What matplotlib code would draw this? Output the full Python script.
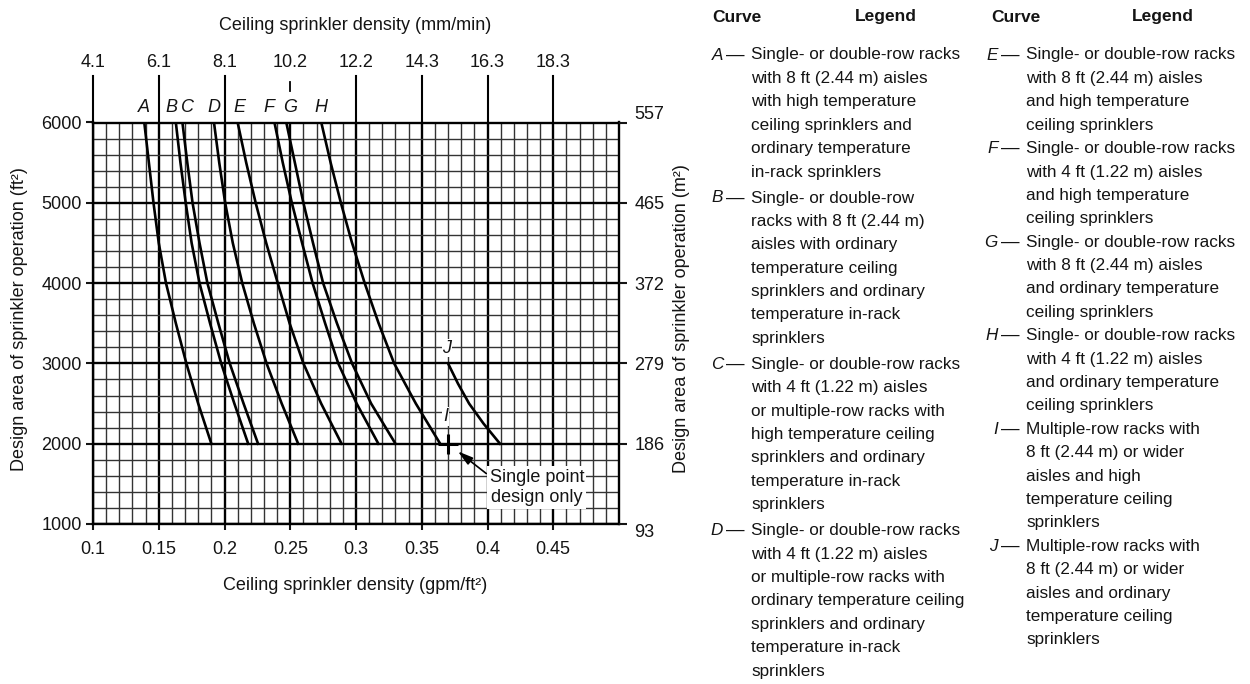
#!/usr/bin/env python3
#coding: utf-8

import matplotlib
matplotlib.use('Agg')
import matplotlib.pyplot as plt
import numpy as np

plt.rcParams['font.family'] = ['Liberation Sans', 'DejaVu Sans']

# design area (ft2) at which the curves are read
area_ft2 = [6000, 5500, 5000, 4500, 4000, 3500, 3000, 2500, 2000]

# ceiling sprinkler density (gpm/ft2) of each curve at those areas
curve_a = [0.139, 0.1425, 0.146, 0.150, 0.1555, 0.163, 0.171, 0.180, 0.190]
curve_b = [0.163, 0.1665, 0.1705, 0.175, 0.181, 0.189, 0.1975, 0.2075, 0.218]
curve_c = [0.168, 0.1717, 0.1757, 0.181, 0.187, 0.1953, 0.204, 0.2145, 0.2255]
curve_d = [0.192, 0.196, 0.2005, 0.2063, 0.2135, 0.2223, 0.232, 0.2435, 0.256]
curve_e = [0.210, 0.2165, 0.2237, 0.2317, 0.2405, 0.2495, 0.260, 0.2735, 0.289]
curve_f = [0.238, 0.2443, 0.2512, 0.259, 0.267, 0.2765, 0.2865, 0.3005, 0.317]
curve_g = [0.247, 0.2535, 0.260, 0.2673, 0.275, 0.2855, 0.297, 0.3115, 0.330]
curve_h = [0.2736, 0.2807, 0.2885, 0.297, 0.3066, 0.3172, 0.329, 0.3455, 0.364]
curve_names = ['A', 'B', 'C', 'D', 'E', 'F', 'G', 'H']

# curve J is only defined between 2000 and 3000 ft2
area_j = [3000, 2750, 2500, 2250, 2000]
curve_j = [0.370, 0.3775, 0.386, 0.397, 0.4095]

# curve I is a single design point
point_i = (0.37, 2000)

gpm_ticks = [0.1, 0.15, 0.2, 0.25, 0.3, 0.35, 0.4, 0.45]
gpm_labels = ['0.1', '0.15', '0.2', '0.25', '0.3', '0.35', '0.4', '0.45']
mm_labels = ['4.1', '6.1', '8.1', '10.2', '12.2', '14.3', '16.3', '18.3']
area_ticks = [1000, 2000, 3000, 4000, 5000, 6000]
area_m2_labels = ['93', '186', '279', '372', '465', '557']

legend_left = [
    ('A', ['Single- or double-row racks', 'with 8 ft (2.44 m) aisles',
           'with high temperature', 'ceiling sprinklers and',
           'ordinary temperature', 'in-rack sprinklers']),
    ('B', ['Single- or double-row', 'racks with 8 ft (2.44 m)',
           'aisles with ordinary', 'temperature ceiling',
           'sprinklers and ordinary', 'temperature in-rack', 'sprinklers']),
    ('C', ['Single- or double-row racks', 'with 4 ft (1.22 m) aisles',
           'or multiple-row racks with', 'high temperature ceiling',
           'sprinklers and ordinary', 'temperature in-rack', 'sprinklers']),
    ('D', ['Single- or double-row racks', 'with 4 ft (1.22 m) aisles',
           'or multiple-row racks with', 'ordinary temperature ceiling',
           'sprinklers and ordinary', 'temperature in-rack', 'sprinklers']),
]
legend_right = [
    ('E', ['Single- or double-row racks', 'with 8 ft (2.44 m) aisles',
           'and high temperature', 'ceiling sprinklers']),
    ('F', ['Single- or double-row racks', 'with 4 ft (1.22 m) aisles',
           'and high temperature', 'ceiling sprinklers']),
    ('G', ['Single- or double-row racks', 'with 8 ft (2.44 m) aisles',
           'and ordinary temperature', 'ceiling sprinklers']),
    ('H', ['Single- or double-row racks', 'with 4 ft (1.22 m) aisles',
           'and ordinary temperature', 'ceiling sprinklers']),
    ('I', ['Multiple-row racks with', '8 ft (2.44 m) or wider',
           'aisles and high', 'temperature ceiling', 'sprinklers']),
    ('J', ['Multiple-row racks with', '8 ft (2.44 m) or wider',
           'aisles and ordinary', 'temperature ceiling', 'sprinklers']),
]

W, H = 1250, 684
INK = '#141414'


def fx(px):
    return px / W


def fy(py):
    return 1 - py / H


def main():
    fig = plt.figure(figsize=(W / 100, H / 100), dpi=100)
    ax = fig.add_axes([fx(93), fy(524), 526 / W, 401.5 / H])
    draw_grid(ax)
    draw_curves(ax)
    draw_axes_text(fig, ax)
    draw_legend(fig)
    fig.savefig('out.png', dpi=100)


def draw_grid(ax):
    ax.set_xlim(0.1, 0.5)
    ax.set_ylim(1000, 6000)
    ax.set_xticks(gpm_ticks)
    ax.set_xticklabels(gpm_labels)
    ax.set_xticks(np.arange(0.1, 0.5001, 0.01), minor=True)
    ax.set_yticks(area_ticks)
    ax.set_yticks(np.arange(1000, 6001, 200), minor=True)
    ax.grid(which='minor', color='#333333', lw=1.0)
    ax.grid(which='major', color='black', lw=1.7)
    ax.set_axisbelow(True)
    for s in ax.spines.values():
        s.set_linewidth(1.7)
    ax.tick_params(which='minor', length=0)
    ax.tick_params(axis='x', which='major', length=4.5, width=1.5,
                   pad=8, labelsize=13, colors=INK)
    ax.tick_params(axis='y', which='major', length=5, width=1.5,
                   pad=3, labelsize=13, colors=INK)

    # right hand scale in m2
    ax_r = ax.twinx()
    ax_r.set_ylim(ax.get_ylim())
    ax_r.set_yticks(area_ticks)
    ax_r.set_yticklabels(area_m2_labels)
    ax_r.tick_params(length=6, width=1.5, pad=5, labelsize=13, colors=INK)
    labels = ax_r.get_yticklabels()
    labels[0].set_verticalalignment('top')
    labels[-1].set_verticalalignment('bottom')
    for s in ax_r.spines.values():
        s.set_visible(False)

    # top scale in mm/min
    ax_t = ax.twiny()
    ax_t.set_xlim(ax.get_xlim())
    ax_t.set_xticks(gpm_ticks)
    ax_t.set_xticklabels(mm_labels)
    ax_t.tick_params(length=0, pad=37, labelsize=13, colors=INK)
    for s in ax_t.spines.values():
        s.set_visible(False)

    # major lines carried up to the mm/min labels
    for x in gpm_ticks:
        if x == 0.25:
            ax.plot([x, x], [6390, 6505], color='black', lw=1.3,
                    clip_on=False)
        else:
            ax.plot([x, x], [6000, 6580], color='black', lw=1.5,
                    clip_on=False)


def draw_curves(ax):
    curves = [curve_a, curve_b, curve_c, curve_d,
              curve_e, curve_f, curve_g, curve_h]
    label_shift = [0, -0.003, 0.0035, 0, 0.001, -0.004, 0.003, 0]
    for name, dens, dx in zip(curve_names, curves, label_shift):
        ax.plot(dens, area_ft2, color='black', lw=1.9, zorder=3,
                solid_joinstyle='round')
        ax.text(dens[0] + dx, 6185, name, fontsize=13, style='italic',
                ha='center', va='center', color=INK, clip_on=False)

    ax.plot(curve_j, area_j, color='black', lw=1.9, zorder=3,
            solid_joinstyle='round')
    ax.text(curve_j[0] - 0.001, 3190, 'J', fontsize=13, style='italic',
            ha='center', va='center', color=INK, zorder=4,
            bbox=dict(fc='white', ec='none', pad=0.5))

    ax.plot(*point_i, marker='+', ms=15, mew=2.2, color='black', zorder=4)
    ax.text(point_i[0] - 0.002, 2340, 'I', fontsize=13, style='italic',
            ha='center', va='center', color=INK, zorder=4,
            bbox=dict(fc='white', ec='none', pad=0.5))

    ax.annotate('Single point\ndesign only', xy=point_i,
                xytext=(0.4375, 1455), ha='center', va='center',
                fontsize=13, color=INK, linespacing=1.3, zorder=5,
                bbox=dict(fc='white', ec='none', pad=1.5),
                arrowprops=dict(arrowstyle='-|>,head_length=0.7,head_width=0.2',
                                color='black', lw=1.2, shrinkA=1, shrinkB=9,
                                relpos=(0, 0.8)))


def draw_axes_text(fig, ax):
    fig.text(fx(355), fy(25), 'Ceiling sprinkler density (mm/min)',
             fontsize=13, ha='center', va='center', color=INK)
    fig.text(fx(355), fy(586), 'Ceiling sprinkler density (gpm/ft²)',
             fontsize=13, ha='center', va='center', color=INK)
    fig.text(fx(20), fy(319), 'Design area of sprinkler operation (ft²)',
             fontsize=13, rotation=90, ha='center', va='center', color=INK)
    fig.text(fx(682), fy(319), 'Design area of sprinkler operation (m²)',
             fontsize=13, rotation=90, ha='center', va='center', color=INK)


def draw_legend(fig):
    fs = 12.3
    for x_curve, x_legend in [(737, 886), (1016, 1163)]:
        fig.text(fx(x_curve), fy(17), 'Curve', fontsize=12.5,
                 weight='bold', ha='center', va='center', color=INK)
        fig.text(fx(x_legend), fy(17), 'Legend', fontsize=12.5,
                 weight='bold', ha='center', va='center', color=INK)

    columns = [(legend_left, 725, 751, 23.4, 2.6),
               (legend_right, 1000, 1026, 23.4, 0.0)]
    for entries, x_dash, x_text, step, gap in columns:
        y = 55
        for letter, lines in entries:
            fig.text(fx(x_dash - 2), fy(y), letter, fontsize=fs,
                     style='italic', ha='right', va='center', color=INK)
            fig.text(fx(x_dash + 1), fy(y), '\u2014', fontsize=fs + 1,
                     ha='left', va='center', color=INK)
            for line in lines:
                fig.text(fx(x_text), fy(y), line, fontsize=fs,
                         ha='left', va='center', color=INK)
                y += step
            y += gap


if __name__ == '__main__':
    main()
